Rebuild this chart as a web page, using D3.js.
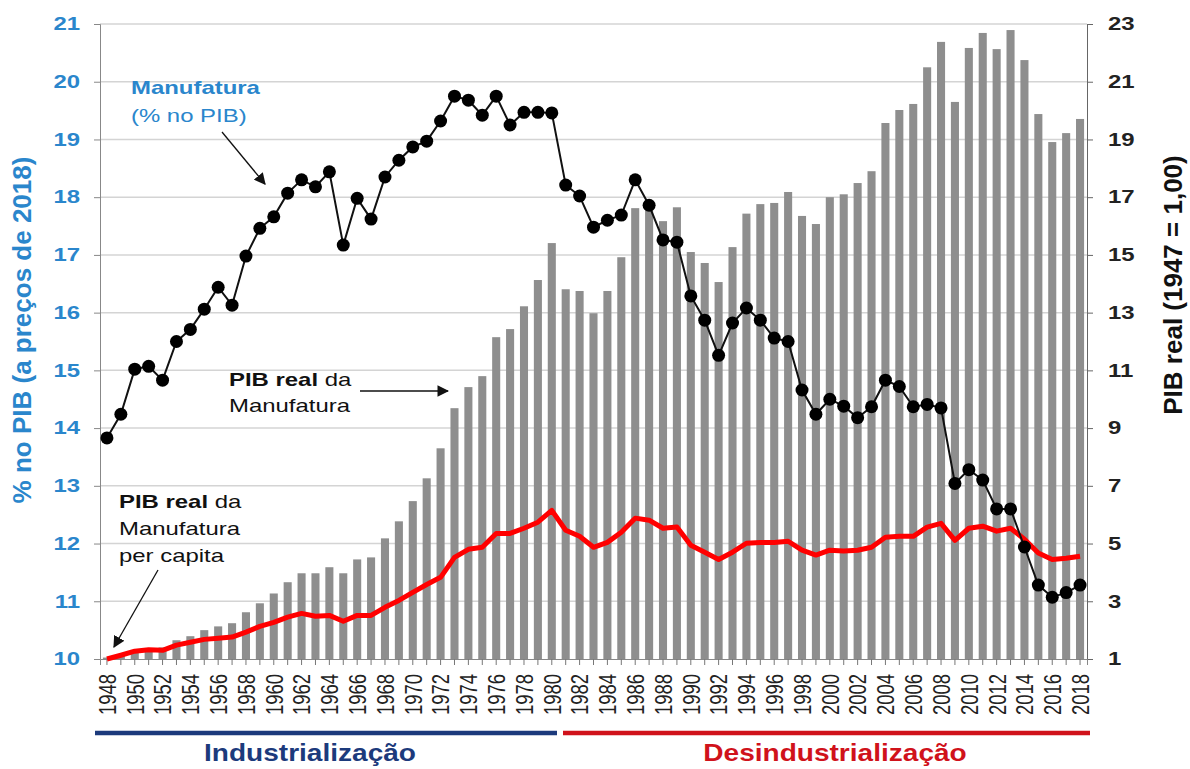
<!DOCTYPE html>
<html>
<head>
<meta charset="utf-8">
<script src="https://cdn.jsdelivr.net/npm/d3@7"></script>
<style>
  body { margin: 0; background: #fff; }
  text { font-family: "Liberation Sans", Arial, sans-serif; }
</style>
</head>
<body>
<div id="chart"></div>
<script>
// years 1948..2018
const years = d3.range(1948, 2019);

// Manufatura, % no PIB (left axis)
const shareGdp = [
  13.83, 14.24, 15.02, 15.07, 14.83, 15.50, 15.71, 16.06, 16.44, 16.13,
  16.98, 17.46, 17.66, 18.07, 18.30, 18.18, 18.44, 17.17, 17.98, 17.62,
  18.35, 18.64, 18.87, 18.97, 19.32, 19.75, 19.68, 19.42, 19.75, 19.25,
  19.47, 19.47, 19.46, 18.21, 18.02, 17.48, 17.60, 17.69, 18.30, 17.86,
  17.26, 17.22, 16.29, 15.87, 15.26, 15.82, 16.08, 15.87, 15.56, 15.50,
  14.66, 14.24, 14.50, 14.38, 14.18, 14.37, 14.83, 14.72, 14.37, 14.41,
  14.35, 13.04, 13.28, 13.10, 12.60, 12.60, 11.94, 11.28, 11.07, 11.15,
  11.28
];

// PIB real da Manufatura (1947 = 1,00), right axis
const realGdp = [
  1.05, 1.10, 1.23, 1.37, 1.40, 1.65, 1.79, 2.00, 2.13, 2.24,
  2.62, 2.93, 3.27, 3.66, 3.97, 3.97, 4.18, 3.97, 4.45, 4.52,
  5.18, 5.77, 6.47, 7.26, 8.30, 9.69, 10.42, 10.80, 12.15, 12.43,
  13.22, 14.13, 15.41, 13.81, 13.75, 12.98, 13.75, 14.92, 16.62, 16.80,
  16.17, 16.65, 15.10, 14.72, 14.06, 15.27, 16.43, 16.76, 16.80, 17.18,
  16.35, 16.07, 17.00, 17.10, 17.49, 17.90, 19.57, 20.02, 20.23, 21.50,
  22.38, 20.30, 22.17, 22.69, 22.13, 22.79, 21.75, 19.88, 18.91, 19.22,
  19.71
];

// PIB real da Manufatura per capita, right axis
const perCapita = [
  1.00, 1.13, 1.27, 1.32, 1.30, 1.48, 1.58, 1.68, 1.72, 1.76,
  1.93, 2.13, 2.27, 2.45, 2.58, 2.48, 2.51, 2.31, 2.51, 2.51,
  2.79, 3.03, 3.31, 3.58, 3.83, 4.52, 4.80, 4.87, 5.35, 5.35,
  5.53, 5.74, 6.15, 5.46, 5.25, 4.87, 5.04, 5.39, 5.88, 5.81,
  5.53, 5.57, 4.94, 4.70, 4.45, 4.70, 5.01, 5.04, 5.04, 5.08,
  4.77, 4.60, 4.77, 4.74, 4.77, 4.87, 5.22, 5.25, 5.25, 5.57,
  5.70, 5.11, 5.53, 5.60, 5.43, 5.53, 5.15, 4.67, 4.45, 4.49,
  4.56
];

const leftTicks = d3.range(10, 22);
const rightTicks = d3.range(1, 24, 2);

//chart size
const width = 1190;
const height = 769;
const plot = { left: 100, right: 1087, top: 24, bottom: 659 };
const sx = 1.33; // the original picture is stretched sideways

const blue = "#2a86cc";
const navy = "#1c3a7c";
const red = "#d0121b";

const svg = d3.select("#chart")
  .append("svg")
  .attr("width", width)
  .attr("height", height);

svg.append("defs").append("marker")
  .attr("id", "arrow")
  .attr("viewBox", "0 0 10 10")
  .attr("refX", 9).attr("refY", 5)
  .attr("markerWidth", 9).attr("markerHeight", 9)
  .attr("orient", "auto")
  .append("path")
  .attr("d", "M0,0 L10,5 L0,10 z")
  .attr("fill", "#111");

//scales
const x = d3.scaleBand()
  .domain(years)
  .range([plot.left, plot.right])
  .paddingInner(0.42)
  .paddingOuter(0.21);

const yLeft = d3.scaleLinear().domain([10, 21]).range([plot.bottom, plot.top]);
const yRight = d3.scaleLinear().domain([1, 23]).range([plot.bottom, plot.top]);
const cx = d => x(d) + x.bandwidth() / 2;

// gridlines
svg.append("g")
  .selectAll("line")
  .data(leftTicks.slice(1))
  .join("line")
  .attr("x1", plot.left).attr("x2", plot.right)
  .attr("y1", d => yLeft(d)).attr("y2", d => yLeft(d))
  .attr("stroke", "#d4d4d4")
  .attr("stroke-width", 1.5);

// bars
svg.append("g")
  .selectAll("rect")
  .data(years)
  .join("rect")
  .attr("x", d => x(d))
  .attr("width", x.bandwidth())
  .attr("y", (d, i) => yRight(realGdp[i]))
  .attr("height", (d, i) => yRight(1) - yRight(realGdp[i]))
  .attr("fill", "#8e8e8e");

// left axis
const leftAxis = svg.append("g")
  .attr("transform", `translate(${plot.left},0)`)
  .call(d3.axisLeft(yLeft).tickValues(leftTicks).tickSize(6));
leftAxis.select(".domain").attr("stroke", "#888");
leftAxis.selectAll(".tick line").attr("stroke", "#888");
leftAxis.selectAll("text")
  .attr("x", -20 / sx)
  .attr("transform", `scale(${sx},1)`)
  .attr("fill", blue)
  .style("font-size", "18px")
  .style("font-weight", "bold");

// right axis
const rightAxis = svg.append("g")
  .attr("transform", `translate(${plot.right},0)`)
  .call(d3.axisRight(yRight).tickValues(rightTicks).tickSize(6));
rightAxis.select(".domain").attr("stroke", "#666");
rightAxis.selectAll(".tick line").attr("stroke", "#666");
rightAxis.selectAll("text")
  .attr("x", 21 / sx)
  .attr("transform", `scale(${sx},1)`)
  .attr("fill", "#222")
  .style("font-size", "18px")
  .style("font-weight", "bold");

// x axis
const xAxis = svg.append("g")
  .attr("transform", `translate(0,${plot.bottom})`)
  .call(d3.axisBottom(x).tickSize(6).tickFormat(d => d % 2 === 0 ? d : ""));
xAxis.select(".domain").attr("stroke", "#888");
xAxis.selectAll(".tick line").attr("stroke", "#777");
xAxis.selectAll("text")
  .attr("fill", "#222")
  .style("font-size", "18.5px")
  .attr("transform", `scale(${sx},1) rotate(-90)`)
  .attr("x", -15)
  .attr("y", 0)
  .attr("dy", "0.36em")
  .style("text-anchor", "end");

// red line: per capita
svg.append("path")
  .datum(perCapita)
  .attr("fill", "none")
  .attr("stroke", "#ff0000")
  .attr("stroke-width", 5)
  .attr("stroke-linejoin", "round")
  .attr("d", d3.line().x((d, i) => cx(years[i])).y(d => yRight(d)));

// black line: share of GDP
svg.append("path")
  .datum(shareGdp)
  .attr("fill", "none")
  .attr("stroke", "#111")
  .attr("stroke-width", 2)
  .attr("d", d3.line().x((d, i) => cx(years[i])).y(d => yLeft(d)));

svg.append("g")
  .selectAll("circle")
  .data(shareGdp)
  .join("circle")
  .attr("cx", (d, i) => cx(years[i]))
  .attr("cy", d => yLeft(d))
  .attr("r", 6.5)
  .attr("fill", "#000");

// stretched text helper
function label(parent, px, py, str, opts = {}) {
  const t = parent.append("text")
    .attr("transform", `translate(${px},${py}) scale(${opts.sx || sx},1)` + (opts.rotate ? " rotate(-90)" : ""))
    .attr("text-anchor", opts.anchor || "start")
    .attr("fill", opts.fill || "#111")
    .style("font-size", (opts.size || 18) + "px")
    .style("font-weight", opts.bold ? "bold" : "normal");
  if (str) t.text(str);
  return t;
}

// axis titles
label(svg, 31, 330, "%  no PIB (a preços de 2018)", { rotate: true, anchor: "middle", fill: blue, size: 26, bold: true, sx: 1.0 });
label(svg, 1182, 285, "PIB real (1947 = 1,00)", { rotate: true, anchor: "middle", fill: "#111", size: 26, bold: true, sx: 1.0 });

// annotations
label(svg, 131, 94, "Manufatura", { fill: blue, bold: true });
label(svg, 131, 122, "(% no PIB)", { fill: blue });
svg.append("line")
  .attr("x1", 222).attr("y1", 132).attr("x2", 265).attr("y2", 184)
  .attr("stroke", "#111").attr("stroke-width", 1.3).attr("marker-end", "url(#arrow)");

const t2 = label(svg, 229, 386, null);
t2.append("tspan").style("font-weight", "bold").text("PIB real");
t2.append("tspan").text(" da");
label(svg, 229, 412, "Manufatura");
svg.append("line")
  .attr("x1", 360).attr("y1", 391).attr("x2", 448).attr("y2", 391)
  .attr("stroke", "#111").attr("stroke-width", 1.3).attr("marker-end", "url(#arrow)");

const t3 = label(svg, 119, 508, null);
t3.append("tspan").style("font-weight", "bold").text("PIB real");
t3.append("tspan").text(" da");
label(svg, 119, 535, "Manufatura");
label(svg, 119, 562, "per capita");
svg.append("line")
  .attr("x1", 158).attr("y1", 570).attr("x2", 114).attr("y2", 647)
  .attr("stroke", "#111").attr("stroke-width", 1.3).attr("marker-end", "url(#arrow)");

// period bars at the bottom
svg.append("line")
  .attr("x1", 95).attr("x2", 557).attr("y1", 733).attr("y2", 733)
  .attr("stroke", navy).attr("stroke-width", 4.5);
svg.append("line")
  .attr("x1", 563).attr("x2", 1090).attr("y1", 733).attr("y2", 733)
  .attr("stroke", red).attr("stroke-width", 4.5);

label(svg, 310, 761, "Industrialização", { anchor: "middle", fill: navy, size: 23, bold: true, sx: 1.22 });
label(svg, 835, 761, "Desindustrialização", { anchor: "middle", fill: red, size: 23, bold: true, sx: 1.22 });
</script>
</body>
</html>
